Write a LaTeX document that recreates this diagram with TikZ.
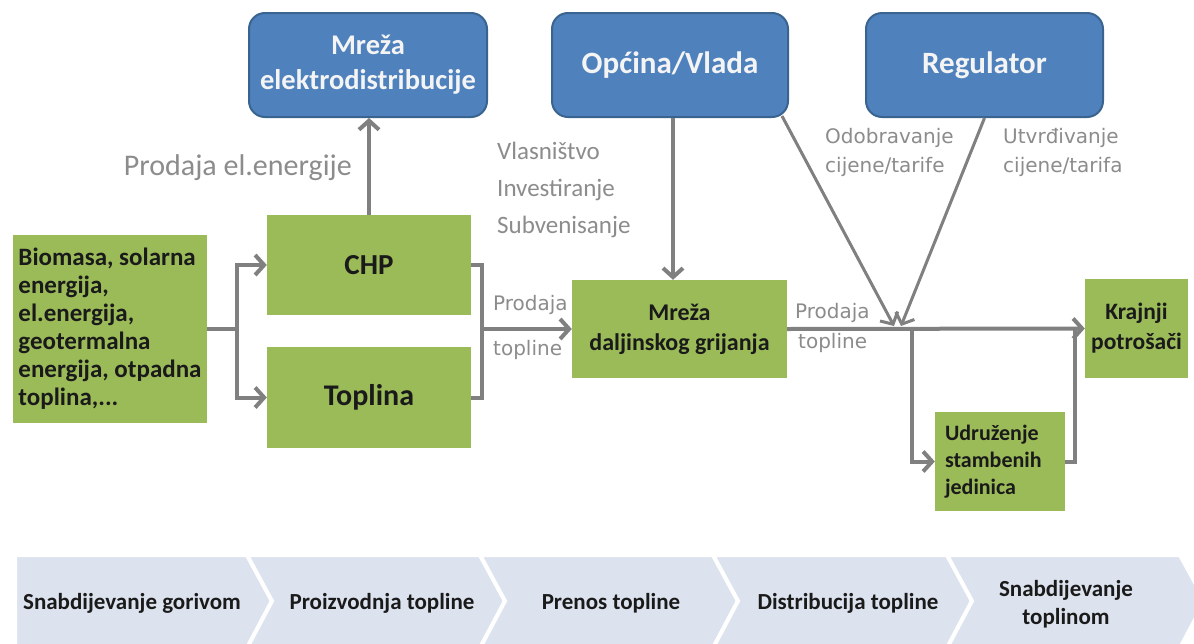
\documentclass[tikz,border=0pt]{standalone}
\usepackage{fontspec}
\setmainfont{Carlito}
\newfontfamily\labelfont{DejaVu Sans}
\usetikzlibrary{arrows.meta,calc}
\definecolor{boxgreen}{HTML}{9BBB59}
\definecolor{boxblue}{HTML}{4F81BD}
\definecolor{boxblueborder}{HTML}{3A6490}
\definecolor{bluetext}{HTML}{F4F4F4}
\definecolor{darktext}{HTML}{1A1A1A}
\definecolor{conngray}{HTML}{808080}
\definecolor{labelgray}{HTML}{8C8C8C}
\definecolor{chevfill}{HTML}{DCE3EE}
\tikzset{
  greenbox/.style={fill=boxgreen, draw=none, inner sep=0pt, text=darktext, align=center},
  bluebox/.style={fill=boxblue, draw=boxblueborder, line width=2pt, rounded corners=16pt, inner sep=0pt, text=bluetext, align=center},
  conn/.style={draw=conngray, line width=4pt},
  arr/.style={conn, -{Straight Barb[length=9pt,width=20pt]}},
  graylabel/.style={text=labelgray, inner sep=0pt},
  chevshape/.style={fill=chevfill, draw=white, line width=4pt, line join=miter},
  chevtext/.style={text=darktext, align=center, inner sep=0pt, font=\fontsize{23}{28}\selectfont\bfseries}
}
\begin{document}
\begin{tikzpicture}[x=1pt,y=-1pt]
\useasboundingbox[fill=white] (0,0) rectangle (1194,643);

% bottom chevron band
\path[chevshape] (15,555) -- (247,555) -- (272,601) -- (247,648) -- (15,648) -- cycle;
\path[chevshape] (247,555) -- (480,555) -- (505,601) -- (480,648) -- (247,648) -- (272,601) -- cycle;
\path[chevshape] (480,555) -- (713,555) -- (738,601) -- (713,648) -- (480,648) -- (505,601) -- cycle;
\path[chevshape] (713,555) -- (947,555) -- (972,601) -- (947,648) -- (713,648) -- (738,601) -- cycle;
\path[chevshape] (947,555) -- (1180,555) -- (1205,601) -- (1180,648) -- (947,648) -- (972,601) -- cycle;
\node[chevtext] (s1) at (132,603) {Snabdijevanje gorivom};
\node[chevtext] (s2) at (382,603) {Proizvodnja topline};
\node[chevtext] (s3) at (611,603) {Prenos topline};
\node[chevtext] (s4) at (848,603) {Distribucija topline};
\node[chevtext] (s5) at (1066,604) {Snabdijevanje\\toplinom};

% blue boxes
\node[bluebox, minimum width=238pt, minimum height=104pt, font=\fontsize{28.5}{35}\selectfont\bfseries] (mel) at (368,65) {Mreža\\elektrodistribucije};
\node[bluebox, minimum width=236pt, minimum height=104pt, font=\fontsize{31}{36}\selectfont\bfseries] (opc) at (670,65) {Općina/Vlada};
\node[bluebox, minimum width=237pt, minimum height=104pt, font=\fontsize{31}{36}\selectfont\bfseries] (reg) at (984.5,65) {Regulator};

% green boxes
\node[greenbox, minimum width=194pt, minimum height=188pt, align=left, font=\fontsize{25}{28}\selectfont\bfseries] (bio) at (110,329) {Biomasa, solarna\\energija,\\el.energija,\\geotermalna\\energija, otpadna\\toplina,...};
\node[greenbox, minimum width=204pt, minimum height=100pt, font=\fontsize{29}{34}\selectfont\bfseries] (chp) at (369,265) {CHP};
\node[greenbox, minimum width=204pt, minimum height=101pt, font=\fontsize{30}{34}\selectfont\bfseries] (topl) at (369,397.5) {Toplina};
\node[greenbox, minimum width=215pt, minimum height=98pt, font=\fontsize{24}{30}\selectfont\bfseries] (mdg) at (679.5,329) {Mreža\\daljinskog grijanja};
\node[greenbox, minimum width=103pt, minimum height=99pt, font=\fontsize{23.5}{30}\selectfont\bfseries] (kraj) at (1136.5,328.5) {Krajnji\\potrošači};
\node[greenbox, minimum width=130pt, minimum height=99pt, text width=110pt, align=left, font=\fontsize{22}{27}\selectfont\bfseries] (udr) at (1000,461.5) {Udruženje\\stambenih\\jedinica};

% connectors
\coordinate (j1) at (237,329);
\coordinate (j2) at (482,329);
\coordinate (j3) at (912,329);
\coordinate (j4) at (1075,329);
\coordinate (c1) at (894,326);
\coordinate (c2) at (901,326);
\draw[conn] (bio.east) -- (j1);
\draw[arr] (j1) |- (chp.west);
\draw[arr] (j1) |- (topl.west);
\draw[conn] (chp.east) -| (j2) |- (topl.east);
\draw[arr] (j2) -- (mdg.west);
\draw[arr] (chp.north) -- (chp.north |- mel.south);
\draw[arr] ([xshift=3pt]opc.south) -- ([xshift=3pt]opc.south |- mdg.north);
\draw[arr, line width=3pt] ([xshift=-7pt,yshift=2pt]opc.south east) -- (c1);
\draw[arr, line width=3pt] (reg.south) -- (c2);
\draw[arr] (mdg.east) -- (kraj.west);
\draw[arr] (j3) |- (udr.west);
\draw[conn] (udr.east) -| (j4);

% labels
\node[graylabel, anchor=east, font=\fontsize{30}{34}\selectfont] (lab1) at (352,168) {Prodaja el.energije};
\node[graylabel, anchor=west, align=left, font=\fontsize{25}{37}\selectfont] (lab2) at (497,190) {Vlasništvo\\Investiranje\\Subvenisanje};
\node[graylabel, anchor=west, align=left, font=\labelfont\fontsize{20}{29}\selectfont] (lab3) at (825,152.5) {Odobravanje\\cijene/tarife};
\node[graylabel, anchor=west, align=left, font=\labelfont\fontsize{20}{29}\selectfont] (lab4) at (1003,152.5) {Utvrđivanje\\cijene/tarifa};
\node[graylabel, anchor=west, font=\labelfont\fontsize{20}{24}\selectfont] (p1a) at (493,305) {Prodaja};
\node[graylabel, anchor=west, font=\labelfont\fontsize{20}{24}\selectfont] (p1b) at (493,350) {topline};
\node[graylabel, anchor=west, font=\labelfont\fontsize{20}{24}\selectfont] (p2a) at (795,313) {Prodaja};
\node[graylabel, anchor=west, font=\labelfont\fontsize{20}{24}\selectfont] (p2b) at (798,343) {topline};
\end{tikzpicture}
\end{document}
